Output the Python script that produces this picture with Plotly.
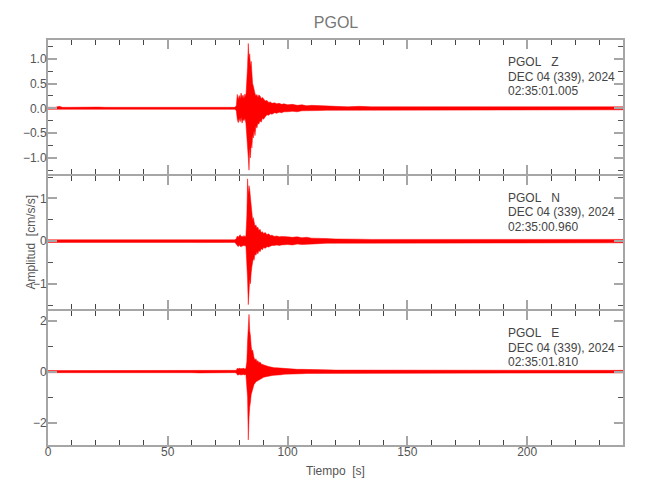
import plotly.graph_objects as go
from plotly.subplots import make_subplots

# ---- data (envelope of each trace) ----
t_knots = [0, 3, 4.7, 6, 9, 12, 15, 18, 21, 24, 27, 30, 33, 36, 39, 42, 45, 48, 51, 54, 57, 60,
           63, 66, 69, 72, 75, 78,
           78.6, 79.0, 79.4, 79.8, 80.2, 80.6, 81.0, 81.4, 81.8, 82.2, 82.6, 83.0, 83.3, 83.6,
           83.9, 84.2, 84.5, 84.8, 85.1, 85.4, 85.7, 86.0, 86.4, 86.8, 87.2, 87.6, 88.0, 88.5,
           89.0, 89.5, 90.0, 90.7, 91.4, 92.1, 92.8, 93.5, 94.5, 95.5, 96.5, 97.5, 98.5, 100,
           102, 104, 106, 108, 110, 113, 116, 120,
           125, 130, 135, 140, 145, 150, 155, 160, 165, 170, 175, 180, 185, 190, 195, 200,
           205, 210, 215, 220, 225, 230, 235, 240]

z_upper = [0.02, 0.02, 0.04, 0.02, 0.02, 0.025, 0.02, 0.02, 0.025, 0.02, 0.02, 0.025, 0.02, 0.02, 0.025, 0.02,
           0.02, 0.025, 0.02, 0.02, 0.025, 0.02, 0.02, 0.025, 0.02, 0.02, 0.025, 0.02,
           0.05, 0.28, 0.18, 0.26, 0.20, 0.31, 0.22, 0.27, 0.20, 0.29, 0.24, 0.55, 0.85, 1.31,
           1.00, 1.10, 0.85, 0.95, 0.60, 0.50, 0.45, 0.35, 0.30, 0.25, 0.28, 0.22, 0.27, 0.25,
           0.20, 0.22, 0.18, 0.15, 0.16, 0.12, 0.13, 0.10, 0.11, 0.09, 0.10, 0.08, 0.09, 0.07,
           0.08, 0.06, 0.07, 0.05, 0.06, 0.05, 0.045, 0.04,
           0.03, 0.04, 0.03, 0.03, 0.025, 0.03, 0.03, 0.025, 0.03, 0.03, 0.025, 0.03, 0.03, 0.025, 0.03, 0.035,
           0.03, 0.035, 0.03, 0.04, 0.03, 0.035, 0.03, 0.03]
z_lower = [-0.02, -0.02, -0.03, -0.02, -0.025, -0.02, -0.02, -0.025, -0.02, -0.02, -0.025, -0.02, -0.02, -0.025,
           -0.02, -0.02, -0.025, -0.02, -0.02, -0.025, -0.02, -0.02, -0.025, -0.02, -0.02, -0.025, -0.02, -0.02,
           -0.05, -0.22, -0.29, -0.20, -0.27, -0.18, -0.30, -0.22, -0.25, -0.20, -0.30, -0.45, -0.70, -1.00,
           -1.25, -0.80, -1.00, -0.70, -0.80, -0.55, -0.60, -0.45, -0.55, -0.35, -0.40, -0.30, -0.32, -0.25,
           -0.28, -0.20, -0.22, -0.17, -0.13, -0.14, -0.11, -0.12, -0.09, -0.10, -0.08, -0.09, -0.07, -0.07,
           -0.06, -0.07, -0.05, -0.06, -0.05, -0.045, -0.04, -0.04,
           -0.03, -0.035, -0.03, -0.025, -0.03, -0.03, -0.025, -0.03, -0.03, -0.025, -0.03, -0.03, -0.025, -0.03,
           -0.03, -0.035, -0.03, -0.03, -0.035, -0.03, -0.035, -0.03, -0.03, -0.03]

n_upper = [0.03, 0.03, 0.04, 0.03, 0.03, 0.035, 0.03, 0.03, 0.035, 0.03, 0.03, 0.035, 0.03, 0.03, 0.035, 0.03,
           0.03, 0.035, 0.03, 0.03, 0.035, 0.03, 0.03, 0.035, 0.03, 0.03, 0.035, 0.03,
           0.06, 0.12, 0.09, 0.13, 0.15, 0.10, 0.12, 0.09, 0.13, 0.10, 0.12, 0.60, 1.46, 1.10,
           1.30, 1.20, 1.05, 0.80, 0.65, 0.50, 0.55, 0.40, 0.35, 0.38, 0.30, 0.33, 0.25, 0.28,
           0.20, 0.22, 0.18, 0.20, 0.15, 0.17, 0.13, 0.14, 0.11, 0.12, 0.10, 0.11, 0.10, 0.10,
           0.09, 0.10, 0.08, 0.09, 0.07, 0.07, 0.06, 0.05,
           0.04, 0.045, 0.04, 0.04, 0.04, 0.045, 0.04, 0.04, 0.04, 0.04, 0.045, 0.04, 0.04, 0.04, 0.04, 0.04,
           0.045, 0.04, 0.04, 0.04, 0.045, 0.04, 0.04, 0.04]
n_lower = [-0.03, -0.03, -0.03, -0.03, -0.035, -0.03, -0.03, -0.035, -0.03, -0.03, -0.035, -0.03, -0.03, -0.035,
           -0.03, -0.03, -0.035, -0.03, -0.03, -0.035, -0.03, -0.03, -0.035, -0.03, -0.03, -0.035, -0.03, -0.03,
           -0.06, -0.10, -0.13, -0.09, -0.11, -0.14, -0.10, -0.12, -0.09, -0.12, -0.10, -0.30, -0.90, -1.49,
           -1.10, -0.90, -1.00, -0.75, -0.60, -0.48, -0.40, -0.45, -0.30, -0.33, -0.25, -0.30, -0.22, -0.25,
           -0.18, -0.20, -0.15, -0.17, -0.13, -0.14, -0.12, -0.10, -0.10, -0.09, -0.10, -0.09, -0.08, -0.08,
           -0.09, -0.07, -0.08, -0.07, -0.07, -0.06, -0.05, -0.045,
           -0.04, -0.04, -0.04, -0.045, -0.04, -0.04, -0.04, -0.04, -0.045, -0.04, -0.04, -0.04, -0.04, -0.045,
           -0.04, -0.04, -0.04, -0.04, -0.045, -0.04, -0.04, -0.04, -0.04, -0.04]

e_upper = [0.04, 0.04, 0.06, 0.04, 0.04, 0.05, 0.04, 0.04, 0.05, 0.04, 0.04, 0.05, 0.04, 0.04, 0.05, 0.04,
           0.04, 0.05, 0.04, 0.04, 0.05, 0.04, 0.04, 0.05, 0.04, 0.04, 0.05, 0.04,
           0.05, 0.13, 0.10, 0.14, 0.11, 0.13, 0.10, 0.14, 0.12, 0.10, 0.13, 0.40, 1.20, 1.60,
           2.24, 1.59, 1.40, 1.00, 0.80, 0.85, 0.60, 0.55, 0.45, 0.50, 0.40, 0.43, 0.35, 0.38,
           0.30, 0.28, 0.25, 0.23, 0.22, 0.20, 0.18, 0.17, 0.15, 0.15, 0.14, 0.13, 0.12, 0.11,
           0.10, 0.09, 0.09, 0.08, 0.08, 0.07, 0.07, 0.06,
           0.06, 0.05, 0.05, 0.05, 0.05, 0.05, 0.05, 0.05, 0.05, 0.05, 0.05, 0.05, 0.05, 0.05, 0.05, 0.05,
           0.05, 0.05, 0.05, 0.06, 0.05, 0.05, 0.05, 0.05]
e_lower = [-0.04, -0.04, -0.05, -0.04, -0.05, -0.04, -0.04, -0.05, -0.04, -0.04, -0.05, -0.04, -0.04, -0.05,
           -0.04, -0.04, -0.05, -0.04, -0.04, -0.05, -0.04, -0.04, -0.05, -0.04, -0.04, -0.05, -0.04, -0.04,
           -0.05, -0.12, -0.14, -0.10, -0.13, -0.11, -0.14, -0.10, -0.12, -0.13, -0.10, -0.35, -1.00, -2.67,
           -1.80, -1.38, -1.20, -0.90, -0.74, -0.70, -0.60, -0.50, -0.45, -0.40, -0.38, -0.35, -0.32, -0.30,
           -0.28, -0.25, -0.22, -0.20, -0.20, -0.18, -0.16, -0.15, -0.14, -0.13, -0.12, -0.12, -0.10, -0.10,
           -0.09, -0.08, -0.08, -0.07, -0.07, -0.07, -0.06, -0.06,
           -0.05, -0.05, -0.05, -0.05, -0.05, -0.05, -0.05, -0.05, -0.05, -0.05, -0.05, -0.05, -0.05, -0.05,
           -0.05, -0.05, -0.05, -0.05, -0.05, -0.05, -0.05, -0.05, -0.05, -0.05]

station = "PGOL"
components = ["Z", "N", "E"]
date_label = "DEC 04 (339), 2024"
start_times = ["02:35:01.005", "02:35:00.960", "02:35:01.810"]
y_ranges = [[-1.32, 1.38], [-1.60, 1.535], [-2.87, 2.36]]
y_dticks = [0.5, 1, 2]
y_minor = [0.25, 0.5, 1]
y_formats = [".1f", "d", "d"]
x_range = [0, 240]

envelopes = [(z_upper, z_lower), (n_upper, n_lower), (e_upper, e_lower)]

FONT = "Liberation Sans, Arial, sans-serif"
AX = "#a6a6a6"
LAB = "#555555"

# the page body has an 8px margin: compensate so the plot area sits at x 48..623, y 40..445
W, H = 642, 492
ML, MR, MT, MB = 40, 27, 32, 55
PLOT_H = H - MT - MB

fig = make_subplots(rows=3, cols=1, shared_xaxes=True, vertical_spacing=2 / PLOT_H)

for i, (up, lo) in enumerate(envelopes):
    fig.add_trace(go.Scatter(
        x=t_knots + t_knots[::-1],
        y=up + lo[::-1],
        mode="lines", fill="toself", fillcolor="#ff0000",
        line=dict(color="#ff0000", width=0.5),
        hoverinfo="skip", showlegend=False), row=i + 1, col=1)

for i in range(3):
    fig.update_yaxes(
        range=y_ranges[i], dtick=y_dticks[i], tick0=0, tickformat=y_formats[i],
        ticks="inside", ticklen=9, tickwidth=2, tickcolor=AX,
        minor=dict(dtick=y_minor[i], tick0=0, ticks="inside", ticklen=5, tickwidth=1, tickcolor="#555555"),
        showline=True, linecolor=AX, linewidth=2, mirror="ticks",
        showgrid=False, zeroline=False, ticklabelstandoff=-3,
        tickfont=dict(family=FONT, size=12, color=LAB),
        row=i + 1, col=1)
    fig.update_xaxes(
        range=x_range, dtick=50, tick0=0,
        ticks="inside", ticklen=9, tickwidth=2, tickcolor=AX,
        minor=dict(dtick=10, tick0=0, ticks="inside", ticklen=5, tickwidth=1, tickcolor="#444444"),
        showline=True, linecolor=AX, linewidth=2, mirror="ticks",
        showgrid=False, zeroline=False, showticklabels=(i == 2), ticklabelstandoff=-5,
        tickfont=dict(family=FONT, size=12, color=LAB),
        row=i + 1, col=1)

annotations = []
yrefs = ["y domain", "y2 domain", "y3 domain"]
for i in range(3):
    lines = [f"{station}\u00a0\u00a0 {components[i]}", date_label, start_times[i]]
    for k, txt in enumerate(lines):
        annotations.append(dict(
            x=0.797, y=1, xref="x domain" if i == 0 else f"x{i + 1} domain", yref=yrefs[i],
            xanchor="left", yanchor="middle", yshift=-22 - 14.5 * k,
            text=txt, showarrow=False,
            font=dict(family=FONT, size=12, color="#444444")))

annotations.append(dict(x=0.5, y=0, xref="paper", yref="paper", yshift=-26,
                        xanchor="center", yanchor="middle", text="Tiempo\u00a0 [s]", showarrow=False,
                        font=dict(family=FONT, size=12, color=LAB)))
annotations.append(dict(x=0, y=0.5, xref="paper", yref="paper", xshift=-18,
                        xanchor="center", yanchor="middle", textangle=-90,
                        text="Amplitud\u00a0 [cm/s/s]", showarrow=False,
                        font=dict(family=FONT, size=12, color=LAB)))

fig.update_layout(
    width=W, height=H,
    margin=dict(l=ML, r=MR, t=MT, b=MB),
    paper_bgcolor="white", plot_bgcolor="white",
    title=dict(text=station, x=(ML + 288) / W, xanchor="center", y=1 - 14 / H, yanchor="middle",
               font=dict(family=FONT, size=16, color="#777777")),
    annotations=annotations,
)

fig.write_html("out.html")
